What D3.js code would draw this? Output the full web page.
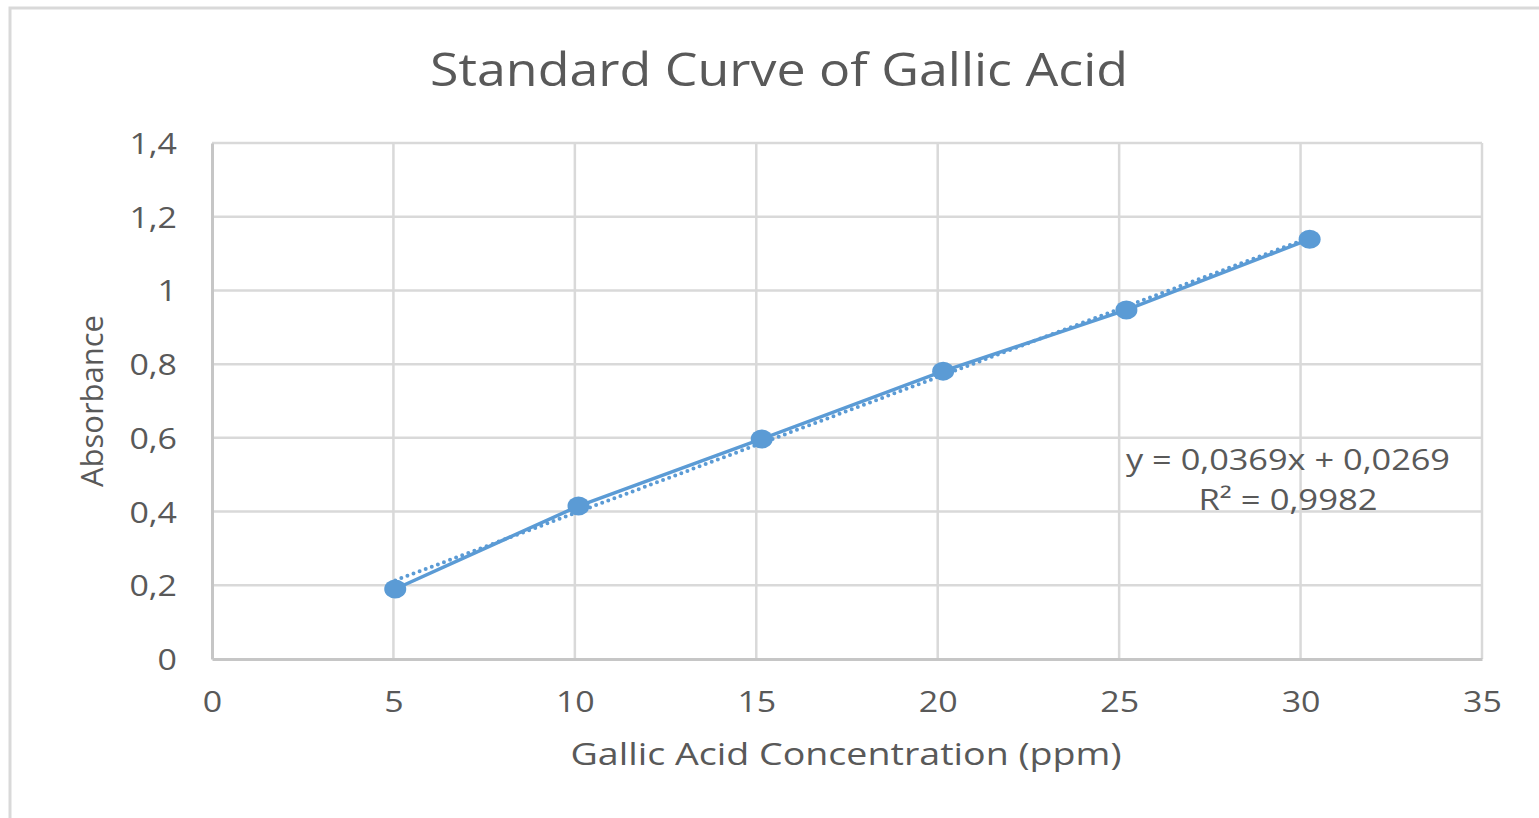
<!DOCTYPE html>
<html>
<head>
<meta charset="utf-8">
<script src="https://cdn.jsdelivr.net/npm/d3@7"></script>
<style>
  html, body { margin: 0; padding: 0; background: #ffffff; }
  svg { display: block; }
  text { font-family: "Open Sans", "Noto Sans", sans-serif; fill: #595959; }
</style>
</head>
<body>
<svg id="chart" width="1539" height="818"></svg>
<script>
// ---- data ----
const concentrations = [5.05, 10.1, 15.15, 20.15, 25.2, 30.25];
const absorbances   = [0.19, 0.415, 0.597, 0.781, 0.947, 1.139];
const xTicks = [0, 5, 10, 15, 20, 25, 30, 35];
const yTicks = [0, 0.2, 0.4, 0.6, 0.8, 1.0, 1.2, 1.4];
const trendSlope = 0.0369;
const trendIntercept = 0.0269;
const equationLines = ["y = 0,0369x + 0,0269", "R² = 0,9982"];
const titleText = "Standard Curve of Gallic Acid";
const xTitle = "Gallic Acid Concentration (ppm)";
const yTitle = "Absorbance";

(function () {
const svg = d3.select("#chart");
const blue = "#5b9bd5";
const fmt = v => String(+v.toFixed(1)).replace(".", ",");
const ADJ = "spacingAndGlyphs";

// outer chart border
svg.append("rect").attr("x", 10).attr("y", 8).attr("width", 1560).attr("height", 840)
  .attr("fill", "#fff").attr("stroke", "#d9d9d9").attr("stroke-width", 3);

const pL = 212, pR = 1482, pT = 143, pB = 659;
const x = d3.scaleLinear().domain([0, 35]).range([pL, pR]);
const y = d3.scaleLinear().domain([0, 1.4]).range([pB, pT]);

// gridlines
const grid = svg.append("g");
grid.selectAll("line.h").data(yTicks.filter(d => d > 0)).join("line")
  .attr("x1", pL).attr("x2", pR).attr("y1", d => y(d)).attr("y2", d => y(d))
  .attr("stroke", "#d9d9d9").attr("stroke-width", 2.5);
grid.selectAll("line.v").data(xTicks.filter(d => d > 0)).join("line")
  .attr("x1", d => x(d)).attr("x2", d => x(d)).attr("y1", pT).attr("y2", pB)
  .attr("stroke", "#d9d9d9").attr("stroke-width", 2.5);

// axes
const xAxis = svg.append("g").attr("transform", `translate(0,${pB})`)
  .call(d3.axisBottom(x).tickValues(xTicks).tickSize(0).tickPadding(32).tickFormat(d => d));
const yAxis = svg.append("g").attr("transform", `translate(${pL},0)`)
  .call(d3.axisLeft(y).tickValues(yTicks).tickSize(0).tickPadding(35).tickFormat(fmt));
[xAxis, yAxis].forEach(a => {
  a.select(".domain").attr("stroke", "#c6c6c6").attr("stroke-width", 3);
  a.selectAll("text").style("font-family", '"Open Sans", sans-serif')
    .style("font-size", "29px").attr("fill", "#595959")
    .each(function () {
      const w = this.getComputedTextLength();
      d3.select(this).attr("textLength", w * 1.17).attr("lengthAdjust", ADJ);
    });
});
yAxis.selectAll("text").attr("dy", "0.36em");

// data line
const line = d3.line().x((d, i) => x(concentrations[i])).y(d => y(d));
svg.append("path").datum(absorbances).attr("d", line)
  .attr("fill", "none").attr("stroke", blue).attr("stroke-width", 3.5);

// linear trendline (dotted)
const tx = d3.extent(concentrations);
svg.append("line")
  .attr("x1", x(tx[0])).attr("y1", y(trendSlope * tx[0] + trendIntercept))
  .attr("x2", x(tx[1])).attr("y2", y(trendSlope * tx[1] + trendIntercept))
  .attr("stroke", blue).attr("stroke-width", 4)
  .attr("stroke-dasharray", "0 6.5").attr("stroke-linecap", "round");

// markers
svg.selectAll("ellipse.pt").data(absorbances).join("ellipse")
  .attr("cx", (d, i) => x(concentrations[i])).attr("cy", d => y(d))
  .attr("rx", 11).attr("ry", 9.5).attr("fill", blue);

// equation label
const eqWidths = [324, 179];
equationLines.forEach((t, i) => {
  svg.append("text").attr("x", 1288).attr("y", 470 + i * 40).attr("text-anchor", "middle")
    .style("font-size", "29px").attr("textLength", eqWidths[i]).attr("lengthAdjust", ADJ)
    .text(t);
});

// title
svg.append("text").attr("x", 779).attr("y", 86).attr("text-anchor", "middle")
  .style("font-size", "46px").attr("textLength", 698).attr("lengthAdjust", ADJ)
  .text(titleText);

// axis titles
svg.append("text").attr("x", 846).attr("y", 765).attr("text-anchor", "middle")
  .style("font-size", "31px").attr("textLength", 551).attr("lengthAdjust", ADJ)
  .text(xTitle);
svg.append("text").attr("transform", "translate(103,401) rotate(-90)")
  .attr("text-anchor", "middle").style("font-size", "31px")
  .attr("textLength", 172).attr("lengthAdjust", ADJ).text(yTitle);
})();
</script>
</body>
</html>
